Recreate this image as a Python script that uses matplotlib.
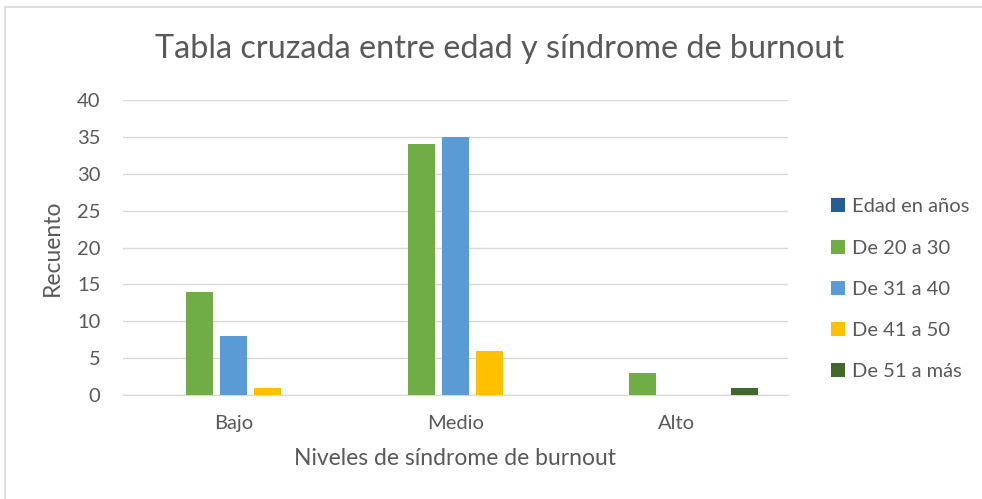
import numpy as np
import matplotlib.pyplot as plt
from matplotlib.patches import Rectangle

categories = ['Bajo', 'Medio', 'Alto']
series_names = ['Edad en años', 'De 20 a 30', 'De 31 a 40', 'De 41 a 50', 'De 51 a más']
edad = [0, 0, 0]
de_20_30 = [14, 34, 3]
de_31_40 = [8, 35, 0]
de_41_50 = [1, 6, 0]
de_51_mas = [0, 0, 1]
colors = ['#255E91', '#70AD47', '#5B9BD5', '#FFC000', '#43682B']

plt.rcParams['font.family'] = ['Lato', 'DejaVu Sans']
text_color = '#595959'

fig = plt.figure(figsize=(9.82, 4.99), dpi=100)
ax = fig.add_axes([0.125, 0.208, 0.677, 0.592])

# light gray frame around the chart
fig.patches.append(Rectangle((5 / 982, -0.1), 1.1, 1 - 7 / 499 + 0.1,
                             transform=fig.transFigure, fill=False,
                             edgecolor='#D9D9D9', linewidth=1.2))

x = np.arange(len(categories))
step = 0.153
width = 0.122
all_series = [edad, de_20_30, de_31_40, de_41_50, de_51_mas]
for i, (vals, name, col) in enumerate(zip(all_series, series_names, colors)):
    ax.bar(x + (i - 2) * step, vals, width, color=col, label=name, zorder=3)

ax.set_xlim(-0.5, 2.5)
ax.set_ylim(0, 40)
ax.set_yticks(range(0, 41, 5))
ax.grid(axis='y', color='#D9D9D9', linewidth=1, zorder=0)
for s in ['top', 'right', 'left']:
    ax.spines[s].set_visible(False)
ax.spines['bottom'].set_color('#D9D9D9')
ax.spines['bottom'].set_linewidth(1)
ax.set_xticks(x)
ax.set_xticklabels(categories)
ax.tick_params(axis='both', length=0, labelsize=14.5, colors=text_color, pad=14)
ax.tick_params(axis='y', pad=16)

ax.set_xlabel('Niveles de síndrome de burnout', fontsize=16.5, color=text_color, labelpad=12)
ax.set_ylabel('Recuento', fontsize=16.5, color=text_color, labelpad=10)
fig.text(0.509, 0.902, 'Tabla cruzada entre edad y síndrome de burnout',
         ha='center', va='center', fontsize=23.3, color=text_color)

leg = fig.legend(loc='center left', bbox_to_anchor=(0.828, 0.42), frameon=False,
                 fontsize=14.5, labelspacing=1.2, handlelength=0.7, handleheight=0.7,
                 handletextpad=0.35)
for t in leg.get_texts():
    t.set_color(text_color)

fig.savefig('out.png', dpi=100, facecolor='white')
